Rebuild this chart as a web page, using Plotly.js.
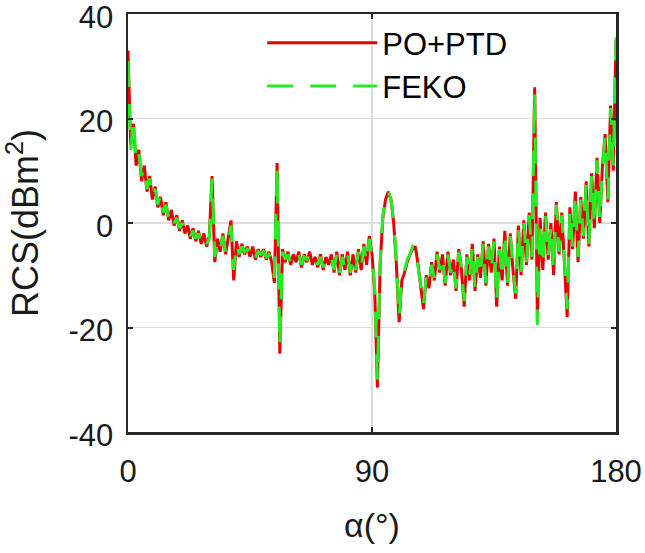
<!DOCTYPE html>
<html>
<head>
<meta charset="utf-8">
<script src="https://cdn.plot.ly/plotly-3.0.1.min.js"></script>
<style>html,body{margin:0;padding:0;background:#fff;}#chart{width:645px;height:553px;}</style>
</head>
<body>
<div id="chart"></div>
<script>
// Aspect angle alpha (degrees), 1-degree steps 0..180
const alphaDeg = [0,1,2,3,4,5,6,7,8,9,10,11,12,13,14,15,16,17,18,19,20,21,22,23,24,25,26,27,28,29,30,31,32,33,34,35,36,37,38,39,40,41,42,43,44,45,46,47,48,49,50,51,52,53,54,55,56,57,58,59,60,61,62,63,64,65,66,67,68,69,70,71,72,73,74,75,76,77,78,79,80,81,82,83,84,85,86,87,88,89,90,91,92,93,94,95,96,97,98,99,100,101,102,103,104,105,106,107,108,109,110,111,112,113,114,115,116,117,118,119,120,121,122,123,124,125,126,127,128,129,130,131,132,133,134,135,136,137,138,139,140,141,142,143,144,145,146,147,148,149,150,151,152,153,154,155,156,157,158,159,160,161,162,163,164,165,166,167,168,169,170,171,172,173,174,175,176,177,178,179,180];

// PO+PTD RCS (dBm^2)
const rcsPOPTD = [33,15,19,11,14,8,11,6,9,4.5,7,3,5,1.5,4,0.5,2.5,-0.5,1.5,-1.5,
  0.5,-2,-0.5,-3,-1,-3.5,-1.5,-4,-2,-4.5,-2.5,9,-7.5,-3,-5.5,-2,-6,-3,0.5,-11,
  -3.5,-6.5,-4,-6,-4.5,-6.5,-4.5,-7,-5,-6.5,-5,-7,-5.5,-7.5,-11.5,11.5,-25,-5,-7.5,-5.5,
  -8,-6,-7.5,-5.5,-8.5,-6,-7.5,-5.5,-8,-6.5,-8.5,-6,-9,-6.5,-8,-6,-9.5,-5.5,-10,-6,
  -9,-5.5,-10,-6,-9.5,-5,-9,-4,-8,-2.5,-6,-13,-31.5,-8,1,4.5,6,4.5,0,-8,
  -19,-11,-9.5,-7.5,-6,-5,-4.5,-8,-12,-16.5,-10,-12.5,-7.5,-11,-5.5,-9.5,-6,-12,-5.5,-10,
  -7,-13,-5,-9,-16,-6,-11,-4,-13,-6,-10.5,-3.5,-12,-4,-9.5,-3,-16,-4.5,-11,-1.5,
  -12,-2,-9,-14.5,-0.5,-10,0.5,-8,2,-7,26,-18.5,1,-9,2,-7,0,-10,4,-6,
  2,-8,-18,3,-5,6,-7.5,5,-3,8,-4.5,9.5,-1,12.5,0,11,17,4,22.5,10,35];

// FEKO RCS (dBm^2)
const rcsFEKO = [31,14,20,12,13.5,9,10.5,6.5,8.5,5,6.5,3.5,5.5,2,3.5,1,2,0,1,-1,
  0,-1.5,-1,-2.5,-1.5,-3,-2,-3.5,-2.5,-4,-3,8.5,-6.5,-3.5,-5,-2.5,-5.5,-3.5,-0.5,-9,
  -4,-6,-4.5,-5.5,-5,-6,-5,-6.5,-5.5,-6,-5.5,-6.5,-6,-7,-10.5,11,-23.5,-5.5,-7,-6,
  -7.5,-6.5,-7,-6,-8,-6.5,-7,-6,-7.5,-7,-8,-6.5,-8.5,-7,-7.5,-6.5,-9,-6,-9.5,-6.5,
  -8.5,-6,-9.5,-6.5,-9,-5.5,-8.5,-4.5,-7.5,-3,-6.5,-12,-30,-7.5,1.5,4.5,6,4.5,0.5,-7.5,
  -18,-10.5,-9,-7,-6,-4.5,-5,-8.5,-11.5,-15.5,-10.5,-12,-8,-10.5,-6,-9,-6.5,-11.5,-6,-9.5,
  -7.5,-12.5,-5.5,-8.5,-15,-6.5,-10.5,-4.5,-12.5,-6.5,-10,-4,-11.5,-4.5,-9,-3.5,-15,-5,-10.5,-2,
  -11.5,-2.5,-8.5,-13.5,-1,-9.5,0,-7.5,1.5,-6.5,25,-19.5,0.5,-8,1.5,-6.5,-0.5,-9,3.5,-5.5,
  1.5,-7,-16.5,2.5,-4.5,5.5,-6.5,4.5,-2.5,7.5,-4,9,-0.5,12,0.5,10.5,16.5,4.5,22,11,35.5];

const seriesNames = ['PO+PTD', 'FEKO'];
const xTicks = [0, 90, 180];
const yTicks = [-40, -20, 0, 20, 40];

const FONT = 'Liberation Sans, Arial, sans-serif';
const axisCol = '#262626';

const traces = [
  {x: alphaDeg, y: rcsPOPTD, name: seriesNames[0], type: 'scatter', mode: 'lines',
   line: {color: '#e60000', width: 3}},
  {x: alphaDeg, y: rcsFEKO, name: seriesNames[1], type: 'scatter', mode: 'lines',
   line: {color: '#22ee22', width: 3, dash: '26px,17px'}}
];

const layout = {
  width: 645, height: 553,
  margin: {l: 128, r: 29, t: 14, b: 121},
  paper_bgcolor: '#fff', plot_bgcolor: '#fff',
  font: {family: FONT, size: 31, color: '#000'},
  showlegend: true,
  legend: {x: 0.275, y: 0.995, xanchor: 'left', yanchor: 'top', bgcolor: 'rgba(0,0,0,0)',
           borderwidth: 0, itemwidth: 110, font: {family: FONT, size: 31, color: '#000'},
           tracegroupgap: 0},
  xaxis: {range: [0, 180], tickvals: xTicks, ticktext: xTicks.map(String),
          showgrid: true, gridcolor: '#dcdcdc', gridwidth: 1.5, zeroline: false,
          showline: true, linecolor: axisCol, linewidth: 2.5, mirror: 'ticks',
          ticks: 'inside', ticklen: 5, tickwidth: 2, tickcolor: axisCol,
          ticklabelstandoff: 10, ticklabeloverflow: 'allow',
          tickfont: {family: FONT, size: 31, color: '#1a1a1a'},
          title: {text: 'α(°)', font: {family: FONT, size: 34, color: '#1a1a1a'}, standoff: 26}},
  yaxis: {range: [-40, 40], tickvals: yTicks, ticktext: yTicks.map(String),
          showgrid: true, gridcolor: '#dcdcdc', gridwidth: 1.5, zeroline: false,
          showline: true, linecolor: axisCol, linewidth: 2.5, mirror: 'ticks',
          ticks: 'inside', ticklen: 5, tickwidth: 2, tickcolor: axisCol,
          ticklabelstandoff: 6, ticklabelshift: 3, ticklabeloverflow: 'allow',
          tickfont: {family: FONT, size: 31, color: '#1a1a1a'},
          title: {text: 'RCS(dBm<sup>2</sup>)', font: {family: FONT, size: 36, color: '#1a1a1a'}, standoff: 22}}
};

Plotly.newPlot('chart', traces, layout, {displayModeBar: false, staticPlot: true});
</script>
</body>
</html>
